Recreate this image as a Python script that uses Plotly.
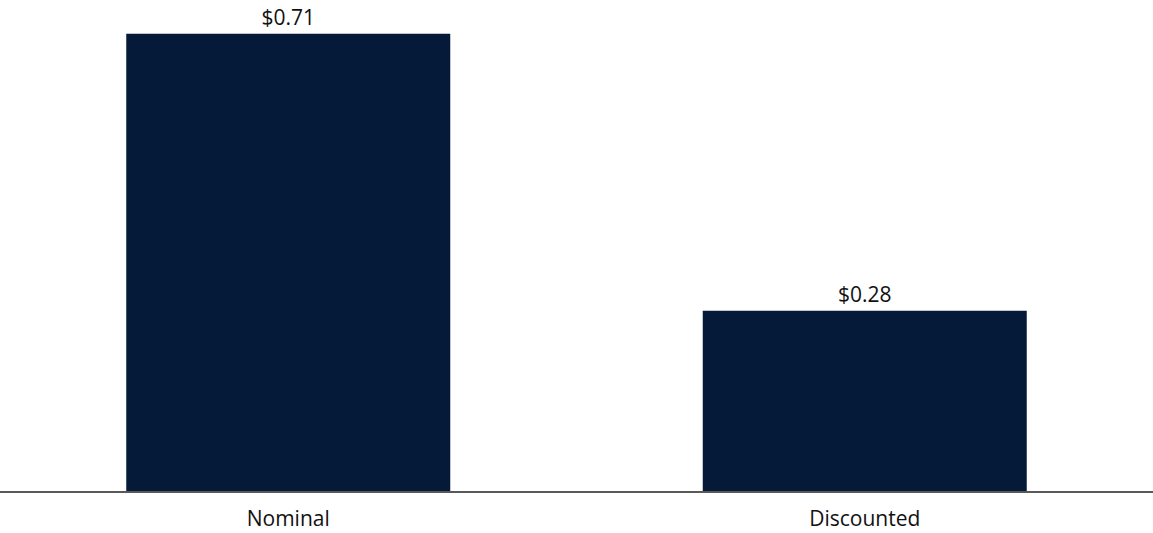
import plotly.graph_objects as go

categories = ["Nominal", "Discounted"]
values = [0.71, 0.28]
labels = ["$0.71", "$0.28"]

fig = go.Figure(go.Bar(
    x=categories, y=values, text=labels, textposition="outside",
    marker=dict(color="#041A38", line=dict(width=0)),
    textfont=dict(family="Open Sans", size=21, color="#111111"),
    cliponaxis=False,
))
fig.update_layout(
    width=1153, height=533,
    margin=dict(l=0, r=0, t=8, b=42),
    plot_bgcolor="white", paper_bgcolor="white",
    bargap=0.438, showlegend=False,
    font=dict(family="Open Sans", size=21, color="#111111"),
    xaxis=dict(showline=True, linecolor="#595959", linewidth=1.5, ticks="",
               showgrid=False, tickfont=dict(size=21), ticklabelstandoff=8,
               automargin=False),
    yaxis=dict(range=[0, 0.75], visible=False, showgrid=False, zeroline=False,
               automargin=False),
    uniformtext=dict(mode=False),
)
fig.write_html("out.html", config={"displayModeBar": False},
               post_script="document.body.style.margin='0';document.body.style.overflow='hidden';")
